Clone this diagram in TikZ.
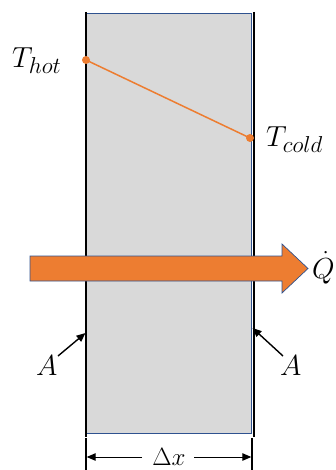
\RequirePackage{fix-cm}
\documentclass[tikz,border=0pt]{standalone}
\usetikzlibrary{arrows.meta}
\DeclareMathSizes{29}{29}{23}{17}
\definecolor{slabgray}{HTML}{D9D9D9}
\definecolor{heat}{HTML}{ED7D31}
\definecolor{rimblue}{HTML}{2F528F}
\begin{document}
\begin{tikzpicture}[x=1pt,y=-1pt,
  lbl/.style={inner sep=0pt, font=\fontsize{29}{31}\selectfont},
  wall/.style={line width=2pt, black},
  pointer/.style={line width=1.4pt, -{Triangle[length=9pt,width=7.5pt]}},
  dimarrow/.style={line width=1pt, -{Triangle[length=9pt,width=7.5pt]}},
  tdot/.style={circle, fill=heat, inner sep=0pt, minimum size=8pt}]
\useasboundingbox (0,0) rectangle (335,470);
% slab
\node[draw=rimblue, fill=slabgray, line width=0.7pt, minimum width=165pt, minimum height=420pt, inner sep=0pt] (slab) at (168.5,223) {};
\coordinate (lwt) at (86,12);
\coordinate (lwb) at (86,437);
\coordinate (rwt) at (253.5,12);
\coordinate (rwb) at (253.5,437);
\draw[wall] (lwt) -- (lwb);
\draw[wall] (rwt) -- (rwb);
% temperature profile
\node[tdot] (hot) at (86,60) {};
\node[tdot] (cold) at (250,138) {};
\draw[heat, line width=1.5pt] (hot.center) -- (cold.center);
\node[lbl, anchor=base west] (thot) at (12,68) {$T_{hot}$};
\node[lbl, anchor=base west] (tcold) at (266,147) {$T_{cold}$};
% heat flow arrow
\coordinate (a1) at (30,256);
\coordinate (a2) at (282,256);
\coordinate (a3) at (282,244);
\coordinate (tip) at (308,268.5);
\coordinate (a5) at (282,293);
\coordinate (a6) at (282,281);
\coordinate (a7) at (30,281);
\draw[fill=heat, draw=rimblue, line width=0.7pt, line join=miter] (a1) -- (a2) -- (a3) -- (tip) -- (a5) -- (a6) -- (a7) -- cycle;
\node[lbl, anchor=base west] (qdot) at (312,278) {$\dot{Q}$};
% areas
\node[lbl, anchor=base west] (aleft) at (36,375) {$A$};
\node[lbl, anchor=base west] (aright) at (280,375) {$A$};
\coordinate (ptl) at (85.5,333);
\coordinate (ptr) at (252.5,328);
\coordinate (sl) at (58,356);
\coordinate (sr) at (283,356);
\draw[pointer] (sl) -- (ptl);
\draw[pointer] (sr) -- (ptr);
% thickness dimension
\coordinate (tl1) at (86,438);
\coordinate (tl2) at (86,470);
\coordinate (tr1) at (252,438);
\coordinate (tr2) at (252,470);
\draw[line width=1.3pt] (tl1) -- (tl2);
\draw[line width=1.3pt] (tr1) -- (tr2);
\node[lbl, font=\fontsize{25}{27}\selectfont, anchor=base] (dx) at (169,465) {$\Delta x$};
\coordinate (dl) at (86.7,457);
\coordinate (dr) at (251.3,457);
\draw[dimarrow] (142,457) -- (dl);
\draw[dimarrow] (194,457) -- (dr);
\end{tikzpicture}
\end{document}
